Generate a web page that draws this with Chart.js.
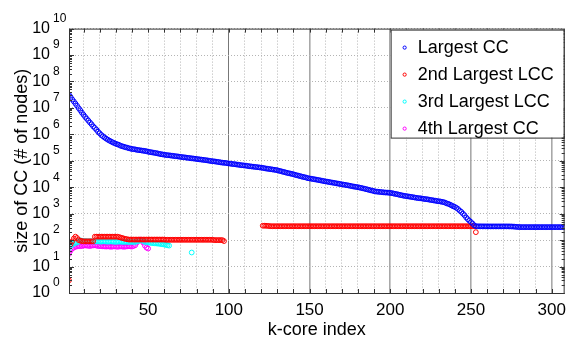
<!DOCTYPE html>
<html>
<head>
<meta charset="utf-8">
<script src="https://cdn.jsdelivr.net/npm/chart.js@4.4.1/dist/chart.umd.min.js"></script>
<style>
	html, body { margin: 0; padding: 0; background: #fff; }
	#graficoKCore { display: block; }
</style>
</head>
<body>
<canvas id="graficoKCore" width="573" height="343"></canvas>
<script>
// k-core index (x categories), one per core
var coreIndex = [];
for (var k = 1; k <= 308; k++) coreIndex.push(k);

var xTickValues = [50, 100, 150, 200, 250, 300];
var xSolidLines = [100, 150, 200, 250, 300];
var yTickExponents = ['0', '1', '2', '3', '4', '5', '6', '7', '8', '9', '10'];
var yTickValues = [1, 1e1, 1e2, 1e3, 1e4, 1e5, 1e6, 1e7, 1e8, 1e9, 1e10];

// size of largest CC, k = 1..308
var largestCC = [
	3.1e7, 2.6e7, 2.1e7, 1.75e7, 1.45e7, 1.2e7, 9.8e6, 8.1e6, 6.6e6, 5.5e6,
	4.6e6, 3.9e6, 3.3e6, 2.8e6, 2.4e6, 2.0e6, 1.75e6, 1.5e6, 1.26e6, 1.1e6,
	9.5e5, 8.5e5, 7.6e5, 6.9e5, 6.3e5, 5.8e5, 5.4e5, 5.0e5, 4.7e5, 4.4e5,
	4.2e5, 4.0e5, 3.7e5, 3.55e5, 3.4e5, 3.25e5, 3.15e5, 3.0e5, 2.9e5, 2.8e5,
	2.75e5, 2.7e5, 2.6e5, 2.55e5, 2.5e5, 2.45e5, 2.4e5, 2.35e5, 2.3e5, 2.2e5,
	2.15e5, 2.1e5, 2.05e5, 2.0e5, 1.95e5, 1.9e5, 1.83e5, 1.78e5, 1.74e5, 1.7e5,
	1.66e5, 1.63e5, 1.61e5, 1.58e5, 1.55e5, 1.52e5, 1.49e5, 1.47e5, 1.44e5, 1.41e5,
	1.38e5, 1.36e5, 1.34e5, 1.31e5, 1.29e5, 1.26e5, 1.24e5, 1.22e5, 1.2e5, 1.17e5,
	1.15e5, 1.13e5, 1.11e5, 1.09e5, 1.07e5, 1.05e5, 1.03e5, 1.0e5, 9.8e4, 9.6e4,
	9.5e4, 9.3e4, 9.1e4, 8.9e4, 8.7e4, 8.5e4, 8.4e4, 8.3e4, 8.1e4, 7.9e4,
	7.8e4, 7.6e4, 7.5e4, 7.4e4, 7.2e4, 7.1e4, 6.9e4, 6.8e4, 6.7e4, 6.6e4,
	6.5e4, 6.3e4, 6.2e4, 6.1e4, 6.0e4, 5.9e4, 5.8e4, 5.7e4, 5.6e4, 5.5e4,
	5.4e4, 5.25e4, 5.1e4, 5.0e4, 4.9e4, 4.8e4, 4.7e4, 4.6e4, 4.5e4, 4.4e4,
	4.2e4, 4.1e4, 3.9e4, 3.8e4, 3.65e4, 3.5e4, 3.4e4, 3.3e4, 3.2e4, 3.1e4,
	2.95e4, 2.85e4, 2.75e4, 2.65e4, 2.55e4, 2.45e4, 2.4e4, 2.3e4, 2.2e4, 2.15e4,
	2.1e4, 2.05e4, 2.0e4, 1.95e4, 1.9e4, 1.85e4, 1.8e4, 1.75e4, 1.7e4, 1.66e4,
	1.62e4, 1.58e4, 1.54e4, 1.5e4, 1.47e4, 1.43e4, 1.39e4, 1.36e4, 1.32e4, 1.29e4,
	1.26e4, 1.23e4, 1.2e4, 1.17e4, 1.14e4, 1.1e4, 1.07e4, 1.05e4, 1.02e4, 1.0e4,
	9.7e3, 9.4e3, 9.1e3, 8.8e3, 8.5e3, 8.2e3, 7.9e3, 7.6e3, 7.4e3, 7.1e3,
	6.9e3, 6.8e3, 6.7e3, 6.6e3, 6.5e3, 6.4e3, 6.3e3, 6.3e3, 6.2e3, 6.1e3,
	6.0e3, 5.8e3, 5.6e3, 5.5e3, 5.3e3, 5.1e3, 5.0e3, 4.8e3, 4.7e3, 4.6e3,
	4.5e3, 4.4e3, 4.3e3, 4.2e3, 4.1e3, 4.0e3, 3.9e3, 3.85e3, 3.8e3, 3.7e3,
	3.6e3, 3.55e3, 3.5e3, 3.4e3, 3.3e3, 3.25e3, 3.15e3, 3.1e3, 3.0e3, 2.95e3,
	2.9e3, 2.8e3, 2.75e3, 2.6e3, 2.45e3, 2.35e3, 2.2e3, 2.05e3, 1.9e3, 1.8e3,
	1.65e3, 1.5e3, 1.3e3, 1.17e3, 1.0e3, 870, 720, 620, 540, 480,
	420, 360, 335, 333, 332, 332, 331, 331, 331, 330,
	330, 330, 330, 330, 330, 330, 330, 330, 330, 330,
	330, 330, 330, 329, 328, 326, 322, 318, 315, 312,
	310, 310, 310, 310, 310, 310, 310, 310, 310, 310,
	310, 310, 310, 310, 310, 310, 310, 310, 310, 310,
	310, 310, 310, 310, 310, 310, 310, 310
];

// size of 2nd largest CC, k = 1..253 (null = absent)
var secondCC = [
	3, 70, 90, 115, 135, 120, 100, 95, 92, 90,
	90, 90, 90, 90, 90, 90, 135, 135, 135, 135,
	135, 135, 135, 135, 135, 135, 135, 135, 135, 135,
	135, 130, 125, 120, 115, 111, 108, 105, 105, 105,
	105, 105, 105, 105, 105, 105, 105, 105, 105, 105,
	105, 105, 105, 105, 105, 105, 105, 105, 105, 105,
	103, 103, 103, 103, 103, 103, 103, 103, 103, 103,
	103, 103, 103, 103, 103, 103, 103, 103, 103, 103,
	103, 103, 103, 103, 103, 103, 103, 103, 103, 103,
	100, 100, 100, 100, 100, 100, 92, null, null, null,
	null, null, null, null, null, null, null, null, null, null,
	null, null, null, null, null, null, null, null, null, null,
	350, 350, 350, 345, 340, 335, 335, 335, 335, 335,
	335, 335, 335, 335, 335, 335, 335, 335, 335, 335,
	335, 335, 335, 335, 335, 335, 335, 335, 335, 335,
	335, 335, 335, 335, 335, 335, 335, 335, 335, 335,
	335, 335, 335, 335, 335, 335, 335, 335, 335, 335,
	335, 335, 335, 335, 335, 335, 335, 335, 335, 335,
	335, 335, 335, 335, 335, 335, 335, 335, 335, 335,
	335, 335, 335, 335, 335, 335, 335, 335, 335, 335,
	335, 335, 335, 335, 335, 335, 335, 335, 335, 335,
	335, 335, 335, 335, 335, 335, 335, 335, 335, 335,
	335, 335, 335, 335, 335, 335, 335, 335, 335, 335,
	335, 335, 335, 335, 335, 335, 335, 335, 335, 335,
	335, 335, 335, 335, 335, 335, 335, 335, 335, 335,
	335, 335, 200
];

// size of 3rd largest CC, k = 1..77
var thirdCC = [
	50, 60, 68, 74, 78, 82, 88, 98, 95, 92,
	92, 90, 90, 91, 90, 89, 90, 90, 89, 88,
	88, 89, 90, 88, 87, 88, 89, 88, 87, 86,
	87, 88, 87, 86, 86, 87, 86, 85, 86, 86,
	85, 86, 88, 92, 98, 100, 92, 86, 84, 82,
	80, 78, 77, 76, 75, 74, 73, 71, 70, 68,
	66, 64, 62, null, null, null, null, null, null, null,
	null, null, null, null, null, null, 34
];

// size of 4th largest CC, k = 1..50
var fourthCC = [
	30, 40, 48, 52, 56, 58, 60, 59, 60, 62,
	63, 62, 61, 60, 62, 63, 64, 62, 60, 60,
	59, 58, 58, 57, 58, 57, 56, 57, 58, 57,
	56, 57, 58, 57, 56, 57, 58, 59, 58, 57,
	60, 64, 80, 100, 105, 95, 80, 62, 52, 48
];

var FONTE = '"Liberation Sans", Arial, Helvetica, sans-serif';

var KCore = KCore || {};

KCore.Grafico = (function() {

	function Grafico() {
		this.ctx = document.getElementById('graficoKCore').getContext('2d');
	}

	function paraPontos(valores) {
		var pontos = [];
		valores.forEach(function(v, i) {
			if (v !== null) pontos.push({ x: coreIndex[i], y: v });
		});
		return pontos;
	}

	function serie(label, valores, cor) {
		return {
			label: label,
			data: paraPontos(valores),
			borderColor: cor,
			backgroundColor: 'rgba(0,0,0,0)',
			pointRadius: 2.4,
			pointBorderWidth: 1,
			pointHoverRadius: 2.4,
			showLine: false
		};
	}

	function ehSolida(c) {
		return c.tick && xSolidLines.indexOf(c.tick.value) >= 0;
	}

	// exponents of the 10^n labels, frame, minor ticks
	var eixosExtras = {
		id: 'eixosExtras',
		afterDatasetsDraw: function(chart) {
			var ctx = chart.ctx;
			var area = chart.chartArea;
			var y = chart.scales.y;
			var x = chart.scales.x;
			ctx.save();
			ctx.strokeStyle = '#333';
			ctx.lineWidth = 1;
			ctx.strokeRect(area.left + 0.5, area.top + 0.5, area.right - area.left - 1, area.bottom - area.top);

			ctx.beginPath();
			for (var d = 0; d < yTickValues.length - 1; d++) {
				for (var m = 2; m <= 9; m++) {
					var py = Math.round(y.getPixelForValue(yTickValues[d] * m)) + 0.5;
					ctx.moveTo(area.left, py); ctx.lineTo(area.left + 3, py);
					ctx.moveTo(area.right, py); ctx.lineTo(area.right - 3, py);
				}
			}
			yTickValues.forEach(function(v) {
				var py = Math.round(y.getPixelForValue(v)) + 0.5;
				ctx.moveTo(area.left, py); ctx.lineTo(area.left + 5, py);
				ctx.moveTo(area.right, py); ctx.lineTo(area.right - 5, py);
			});
			x.ticks.forEach(function(t) {
				var px = Math.round(x.getPixelForValue(t.value)) + 0.5;
				ctx.moveTo(px, area.bottom); ctx.lineTo(px, area.bottom - 4);
				ctx.moveTo(px, area.top); ctx.lineTo(px, area.top + 4);
			});
			ctx.stroke();

			ctx.fillStyle = '#000';
			ctx.font = '12px ' + FONTE;
			ctx.textAlign = 'left';
			ctx.textBaseline = 'middle';
			yTickValues.forEach(function(v, i) {
				var py = y.getPixelForValue(v);
				ctx.fillText(yTickExponents[i], area.left - 16, py - 10);
			});
			ctx.restore();
		}
	};

	// legend box inside the plot, top right
	var legendaInterna = {
		id: 'legendaInterna',
		afterDraw: function(chart) {
			var ctx = chart.ctx;
			var area = chart.chartArea;
			var esq = area.right - 174, topo = area.top + 1, larg = 173, alt = 108;
			ctx.save();
			ctx.fillStyle = '#fff';
			ctx.fillRect(esq, topo, larg, alt);
			ctx.strokeStyle = '#333';
			ctx.lineWidth = 1;
			ctx.strokeRect(esq + 0.5, topo + 0.5, larg, alt);
			ctx.font = '18px ' + FONTE;
			ctx.textAlign = 'left';
			ctx.textBaseline = 'middle';
			chart.data.datasets.forEach(function(ds, i) {
				var ly = topo + 18 + i * 27;
				ctx.beginPath();
				ctx.arc(esq + 14, ly, 1.6, 0, 2 * Math.PI);
				ctx.strokeStyle = ds.borderColor;
				ctx.stroke();
				ctx.fillStyle = '#000';
				ctx.fillText(ds.label, esq + 27, ly);
			});
			ctx.restore();
		}
	};

	Grafico.prototype.iniciar = function() {
		new Chart(this.ctx, {
			type: 'scatter',
			data: {
				datasets: [
					serie('Largest CC', largestCC, '#0000ff'),
					serie('2nd Largest LCC', secondCC, '#ff0000'),
					serie('3rd Largest LCC', thirdCC, '#00ffff'),
					serie('4th Largest CC', fourthCC, '#ff00ff')
				]
			},
			options: {
				responsive: false,
				animation: false,
				devicePixelRatio: 1,
				layout: { padding: { top: 23, right: 1, left: 0, bottom: 0 } },
				plugins: {
					legend: { display: false },
					tooltip: { enabled: false },
					title: { display: false }
				},
				scales: {
					x: {
						type: 'linear',
						min: 1,
						max: 308,
						afterBuildTicks: function(scale) {
							var ticks = [];
							for (var v = 10; v <= 300; v += 10) ticks.push({ value: v });
							scale.ticks = ticks;
						},
						afterFit: function(scale) { scale.height = 50; },
						ticks: {
							autoSkip: false,
							maxRotation: 0,
							padding: 7,
							color: '#000',
							font: { family: FONTE, size: 17 },
							callback: function(v) {
								return xTickValues.indexOf(v) >= 0 ? String(v) : '';
							}
						},
						grid: {
							drawTicks: false,
							color: function(c) {
								if (!ehSolida(c)) return '#b4b4b4';
								return c.tick.value === 100 ? '#777' : '#a8a8a8';
							},
							lineWidth: function(c) { return ehSolida(c) && c.tick.value !== 100 ? 1.6 : 1; }
						},
						border: {
							display: false,
							dash: function(c) { return ehSolida(c) ? [] : [1, 2]; }
						},
						title: {
							display: true,
							text: 'k-core index',
							color: '#000',
							font: { family: FONTE, size: 18 },
							padding: { top: 0, bottom: 2 }
						}
					},
					y: {
						type: 'logarithmic',
						min: 1,
						max: 1e10,
						afterBuildTicks: function(scale) {
							scale.ticks = yTickValues.map(function(v) { return { value: v, major: true }; });
						},
						afterFit: function(scale) { scale.width = 69; },
						ticks: {
							autoSkip: false,
							padding: 19,
							color: '#000',
							font: { family: FONTE, size: 16 },
							callback: function() { return '10'; }
						},
						grid: {
							drawTicks: false,
							color: '#b4b4b4',
							lineWidth: 1
						},
						border: {
							display: false,
							dash: [1, 2]
						},
						title: {
							display: true,
							text: 'size of CC (# of nodes)',
							color: '#000',
							font: { family: FONTE, size: 18 },
							padding: { top: 11, bottom: 0 }
						}
					}
				}
			},
			plugins: [eixosExtras, legendaInterna]
		});
	};

	return Grafico;

})();

var grafico = new KCore.Grafico();
grafico.iniciar();
</script>
</body>
</html>
